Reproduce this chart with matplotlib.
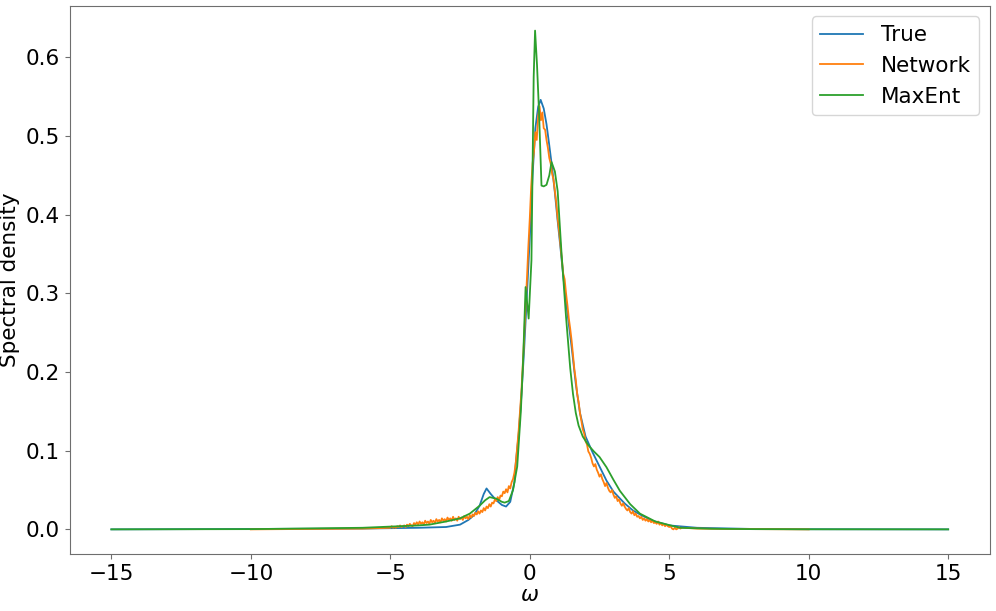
import numpy as np
import matplotlib
matplotlib.use("Agg")
import matplotlib.pyplot as plt

# ---- True spectral density ----
true_x = [-15, -10, -6, -4, -3, -2.5, -2.2, -2.0, -1.8, -1.65, -1.55, -1.4, -1.2, -1.0,
          -0.85, -0.7, -0.55, -0.5, -0.4, -0.3, -0.2, -0.1, 0.0, 0.1, 0.2, 0.3, 0.39,
          0.5, 0.6, 0.7, 0.8, 0.9, 1.0, 1.1, 1.2, 1.35, 1.5, 1.65, 1.8, 2.0, 2.25, 2.5,
          2.75, 3.0, 3.4, 3.7, 4.0, 4.4, 5.0, 6.0, 8, 10, 15]
true_y = [0.0, 0.0005, 0.001, 0.002, 0.003, 0.006, 0.012, 0.018, 0.030, 0.045, 0.052,
          0.045, 0.037, 0.031, 0.029, 0.035, 0.060, 0.085, 0.120, 0.170, 0.230, 0.300,
          0.370, 0.450, 0.510, 0.537, 0.546, 0.535, 0.515, 0.488, 0.460, 0.428, 0.392,
          0.358, 0.322, 0.275, 0.232, 0.185, 0.148, 0.118, 0.098, 0.080, 0.062, 0.048,
          0.033, 0.024, 0.018, 0.011, 0.005, 0.002, 0.0005, 0.0002, 0.0]

# ---- Network prediction ----
net_core_y = [
    0.002, 0.004, 0.002, 0.003, 0.002, 0.004, 0.003, 0.005, 0.003, 0.004,
    0.005, 0.003, 0.006, 0.004, 0.007, 0.005, 0.004, 0.008, 0.006, 0.009,
    0.006, 0.010, 0.007, 0.009, 0.006, 0.011, 0.008, 0.010, 0.007, 0.012,
    0.009, 0.011, 0.008, 0.013, 0.010, 0.012, 0.009, 0.014, 0.011, 0.013,
    0.010, 0.015, 0.012, 0.014, 0.011, 0.016, 0.012, 0.014, 0.011, 0.016,
    0.013, 0.015, 0.012, 0.017, 0.014, 0.016, 0.013, 0.018, 0.015, 0.019,
    0.017, 0.021, 0.019, 0.023, 0.020, 0.024, 0.022, 0.027, 0.024, 0.029,
    0.027, 0.032, 0.029, 0.034, 0.033, 0.038, 0.036, 0.041, 0.037, 0.043,
    0.042, 0.048, 0.046, 0.051, 0.047, 0.055, 0.052, 0.060, 0.064, 0.072,
    0.085, 0.105, 0.125, 0.150, 0.175, 0.210, 0.245, 0.285, 0.320, 0.360,
    0.395, 0.435, 0.465, 0.480, 0.505, 0.495, 0.525, 0.538, 0.520, 0.530,
    0.510, 0.508, 0.495, 0.485, 0.472, 0.465, 0.452, 0.445, 0.430, 0.415,
    0.395, 0.380, 0.362, 0.345, 0.325, 0.318, 0.300, 0.285, 0.268, 0.255,
    0.240, 0.222, 0.203, 0.190, 0.172, 0.162, 0.148, 0.138, 0.127, 0.122,
    0.112, 0.108, 0.099, 0.096, 0.091, 0.084, 0.080, 0.083, 0.076, 0.072,
    0.067, 0.070, 0.064, 0.060, 0.055, 0.059, 0.053, 0.049, 0.047, 0.050,
    0.044, 0.040, 0.042, 0.036, 0.038, 0.033, 0.030, 0.033, 0.029, 0.026,
    0.024, 0.027, 0.022, 0.020, 0.023, 0.018, 0.020, 0.016, 0.017, 0.014,
    0.016, 0.012, 0.014, 0.011, 0.013, 0.010, 0.012, 0.009, 0.011, 0.008,
    0.009, 0.007, 0.010, 0.006, 0.008, 0.005, 0.007, 0.004, 0.006, 0.004,
    0.003, 0.004, 0.001, 0.000, 0.002, 0.000, 0.001, 0.003, 0.001, 0.002, 0.002,
]
net_core_x = list(np.arange(-100, 111) / 20)
net_x = [-10, -8, -6, -5.5] + net_core_x + [6.0, 7.0, 8.0, 10.0]
net_y = [0.0, 0.0005, 0.001, 0.0015] + net_core_y + [0.001, 0.0005, 0.0003, 0.0]

# ---- MaxEnt reconstruction ----
me_x = [-15, -10, -6, -4, -3.6, -3, -2.5, -2.15, -1.8, -1.6, -1.44, -1.2, -1.0, -0.9,
        -0.75, -0.6, -0.45, -0.32, -0.24, -0.15, -0.1, -0.04, 0.06, 0.14, 0.19, 0.26,
        0.33, 0.42, 0.5, 0.6, 0.7, 0.78, 0.9, 1.0, 1.14, 1.3, 1.45, 1.55, 1.65, 1.75,
        1.9, 2.1, 2.3, 2.5, 2.75, 3.0, 3.23, 3.6, 3.95, 4.5, 5.38, 6.5, 8, 10, 15]
me_y = [0.0, 0.0003, 0.002, 0.005, 0.006, 0.010, 0.014, 0.020, 0.030, 0.037, 0.041,
        0.039, 0.035, 0.034, 0.036, 0.050, 0.080, 0.150, 0.214, 0.308, 0.290, 0.268,
        0.342, 0.575, 0.634, 0.590, 0.532, 0.437, 0.436, 0.438, 0.450, 0.467, 0.455,
        0.430, 0.350, 0.270, 0.205, 0.172, 0.148, 0.132, 0.118, 0.107, 0.099, 0.092,
        0.079, 0.063, 0.049, 0.032, 0.020, 0.010, 0.002, 0.0008, 0.0003, 0.0001, 0.0]

fig = plt.figure(figsize=(9.96, 6.11), dpi=100)
ax = fig.add_axes([0.0698, 0.0928, 0.9242, 0.8979])
lw = 1.3
ax.plot(true_x, true_y, color="#1f77b4", lw=lw, label="True")
ax.plot(net_x, net_y, color="#ff7f0e", lw=lw, label="Network")
ax.plot(me_x, me_y, color="#2ca02c", lw=lw, label="MaxEnt")

for s in ax.spines.values():
    s.set_color("#6e6e6e")
ax.tick_params(colors="#6e6e6e", labelcolor="black", labelsize=15.5)
ax.set_xticks([-15, -10, -5, 0, 5, 10, 15])
ax.set_xlabel(r"$\omega$", fontsize=15.5, labelpad=1)
ax.set_ylabel("Spectral density", fontsize=15.5)
ax.legend(fontsize=15.5, loc="upper right")
fig.savefig("out.png", dpi=100)
